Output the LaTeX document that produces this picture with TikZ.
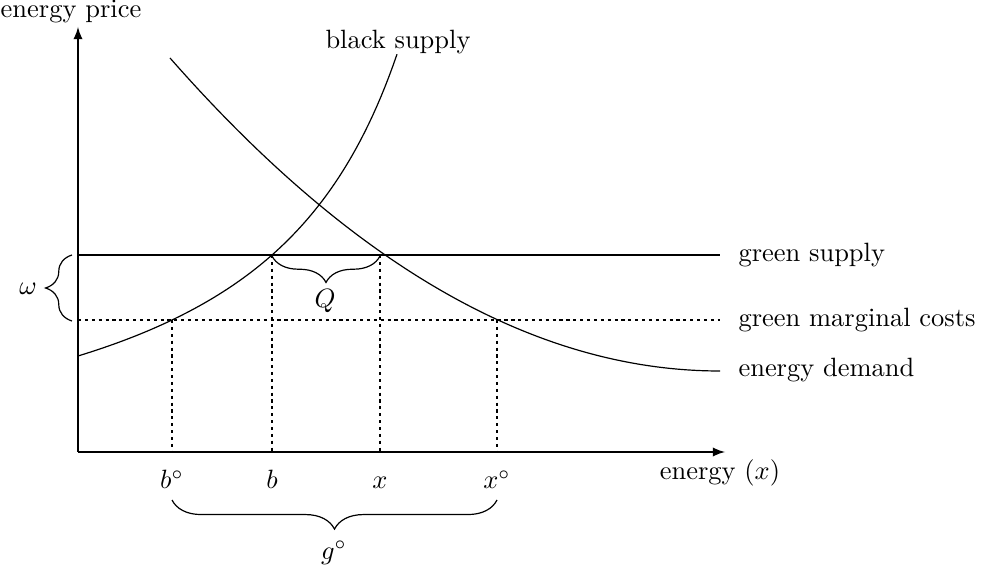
\documentclass[tikz,border=0pt]{standalone}
\usetikzlibrary{decorations.pathreplacing}
\begin{document}
\begin{tikzpicture}[x=0.378pt,y=-0.378pt,
  axis/.style={line width=0.6pt,-latex},
  curve/.style={line width=0.45pt},
  guide/.style={line width=0.45pt,dash pattern=on 1.2pt off 1.4pt},
  lbl/.style={anchor=west,inner sep=0pt},
  tick/.style={anchor=base,inner sep=0pt},
  brc/.style={decorate,decoration={brace,amplitude=#1},line width=0.45pt}]
\useasboundingbox (0,0) rectangle (991,574);
% axes
\coordinate (O) at (78,452);
\coordinate (ytop) at (78,27);
\coordinate (xend) at (725,452);
\draw[axis] (O) -- (ytop);
\draw[axis] (O) -- (xend);
\node (yl) at (71,12) {energy price};
\node (xl) at (720,473) {energy $(x)$};
% horizontal lines
\coordinate (gs0) at (78,255);
\coordinate (gs1) at (720,255);
\coordinate (gm0) at (78,320);
\coordinate (gm1) at (720,320);
\draw[curve] (gs0) -- (gs1);
\draw[guide] (gm0) -- (gm1);
\node[lbl] (gsl) at (738,255) {green supply};
\node[lbl] (gml) at (738,320) {green marginal costs};
\node[lbl] (edl) at (738,370) {energy demand};
% energy demand (parabola as cubic)
\coordinate (d0) at (170,58);
\coordinate (dc1) at (353.33,266.67);
\coordinate (dc2) at (536.67,371);
\coordinate (d1) at (720,371);
\draw[curve] (d0) .. controls (dc1) and (dc2) .. (d1);
% black supply
\draw[curve] plot[domain=78:397,samples=80,variable=\x] ({\x},{500.73-683.12/(5.5-\x/100)});
\node (bsl) at (398,42) {black supply};
% vertical guides
\coordinate (bo) at (172,452);
\coordinate (bb) at (272,452);
\coordinate (xx) at (380,452);
\coordinate (xo) at (497,452);
\draw[guide] (172,320) -- (bo);
\draw[guide] (272,255) -- (bb);
\draw[guide] (380,255) -- (xx);
\draw[guide] (497,320) -- (xo);
\node[tick] (lbo) at (172,489) {$b^\circ$};
\node[tick] (lbb) at (272,489) {$b$};
\node[tick] (lxx) at (380,489) {$x$};
\node[tick] (lxo) at (497,489) {$x^\circ$};
% braces
\draw[brc=10pt] (72,321) -- (72,255);
\node (om) at (28,289) {$\omega$};
\draw[brc=10pt] (380,256) -- (272,256);
\node (Q) at (325,301) {$Q$};
\draw[brc=11pt] (497,500) -- (172,500);
\node (g) at (334,553) {$g^\circ$};
\end{tikzpicture}
\end{document}
